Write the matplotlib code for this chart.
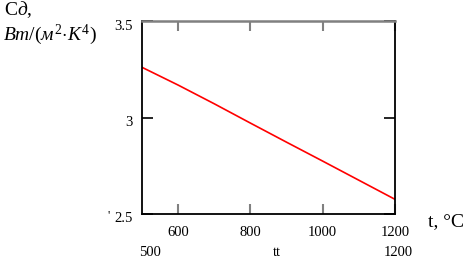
import matplotlib
matplotlib.use("Agg")
import matplotlib.pyplot as plt
from matplotlib.transforms import ScaledTranslation

# temperature, deg C, and emissivity coefficient
t = [500, 600, 700, 800, 900, 1000, 1100, 1200]
cd = [3.260, 3.168, 3.071, 2.971, 2.872, 2.774, 2.675, 2.576]
xticks = [600, 800, 1000, 1200]
yticks = [2.5, 3, 3.5]
ylabels = ['2.5', '3', '3.5']

serif = ['Liberation Serif', 'DejaVu Serif']
plt.rcParams['font.family'] = serif
plt.rcParams['mathtext.fontset'] = 'custom'
plt.rcParams['mathtext.rm'] = 'Liberation Serif'
plt.rcParams['mathtext.it'] = 'Liberation Serif:italic'

fig = plt.figure(figsize=(4.68, 2.62), dpi=100)
ax = fig.add_axes([142 / 468, 1 - 214 / 262, 253 / 468, 193 / 262])

ax.plot(t, cd, color='red', lw=1.2)
ax.set_xlim(500, 1200)
ax.set_ylim(2.5, 3.5)

ax.set_xticks(xticks)
ax.set_xticklabels([str(v) for v in xticks], fontsize=10.5)
ax.set_yticks(yticks)
ax.set_yticklabels(ylabels, fontsize=10.5)
ax.tick_params(axis='x', direction='in', length=7.5, width=1.5, color='#808080',
               top=True, pad=9)
ax.tick_params(axis='y', direction='in', length=8, width=1.2, color='black',
               right=True, pad=6.5)
# Mathcad puts the y numbers a little below their ticks
shift = ScaledTranslation(0, -3.5 / 100, fig.dpi_scale_trans)
for lab in ax.get_yticklabels():
    lab.set_transform(lab.get_transform() + shift)

for side in ['left', 'right', 'bottom']:
    ax.spines[side].set_linewidth(1.3)
    ax.spines[side].set_color('black')
ax.spines['top'].set_linewidth(1.8)
ax.spines['top'].set_color('#808080')

# axis captions
fig.text(4 / 468, 1 - 10 / 262, r'C$д$,', fontsize=14, va='center', ha='left')
fig.text(3 / 468, 1 - 35 / 262, r'$Вт/\mathit{(}м^2\!\cdot\! К^4\mathit{)}$',
         fontsize=14, va='center', ha='left')
fig.text(428 / 468, 1 - 222 / 262, 't, °C', fontsize=14, va='center', ha='left')

# range labels under the plot
fig.text(150 / 468, 1 - 252 / 262, '500', fontsize=10.5, va='center', ha='center')
fig.text(277 / 468, 1 - 252 / 262, 'tt', fontsize=10.5, va='center', ha='center')
fig.text(398 / 468, 1 - 252 / 262, '1200', fontsize=10.5, va='center', ha='center')
fig.text(109 / 468, 1 - 216 / 262, "'", fontsize=9, va='center', ha='center')

fig.savefig('out.png', dpi=100)
